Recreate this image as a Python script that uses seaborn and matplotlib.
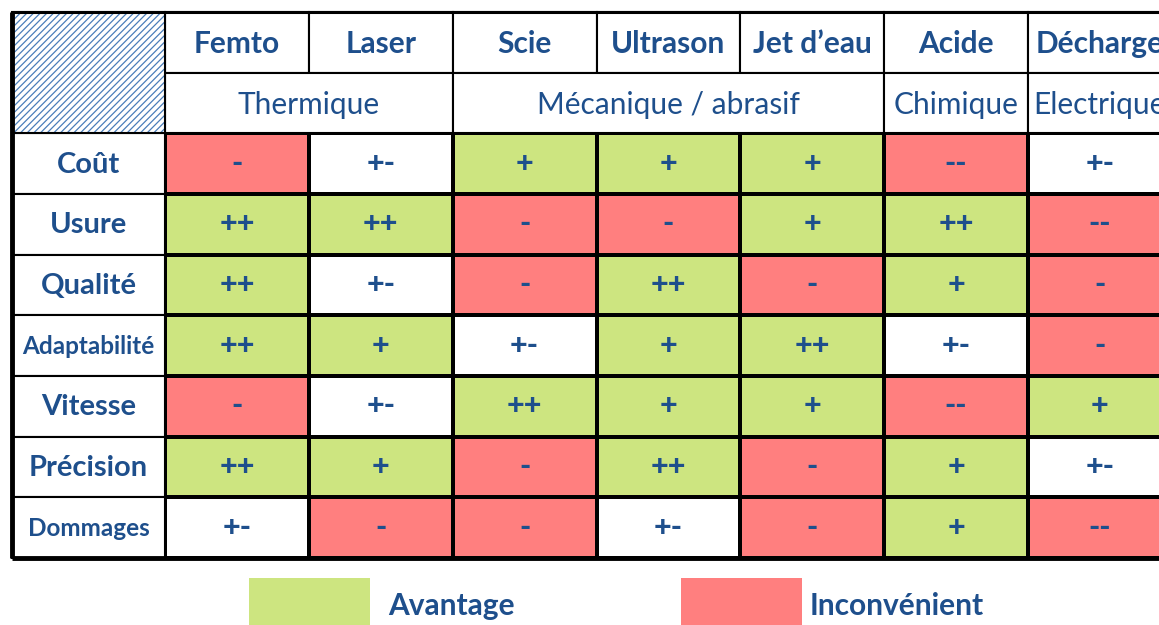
import numpy as np
import pandas as pd
import matplotlib
matplotlib.use("Agg")
import matplotlib.pyplot as plt
from matplotlib.colors import ListedColormap
from matplotlib.patches import Rectangle
import seaborn as sns

# ---------------- data ----------------
methods = ["Femto", "Laser", "Scie", "Ultrason", "Jet d’eau", "Acide", "Décharge"]
families = ["Thermique", "Mécanique / abrasif", "Chimique", "Electrique"]
family_span = [2, 3, 1, 1]
criteria = ["Coût", "Usure", "Qualité", "Adaptabilité", "Vitesse", "Précision", "Dommages"]

cout = ["-", "+-", "+", "+", "+", "--", "+-"]
usure = ["++", "++", "-", "-", "+", "++", "--"]
qualite = ["++", "+-", "-", "++", "-", "+", "-"]
adaptabilite = ["++", "+", "+-", "+", "++", "+-", "-"]
vitesse = ["-", "+-", "++", "+", "+", "--", "+"]
precision = ["++", "+", "-", "++", "-", "+", "+-"]
dommages = ["+-", "-", "-", "+-", "-", "+", "--"]

symbol_score = {"--": -2, "-": -1, "+-": 0, "+": 1, "++": 2}
legend_labels = ["Avantage", "Inconvénient"]

# ---------------- style ----------------
sns.set_style("white")
plt.rcParams["font.family"] = ["Lato", "DejaVu Sans"]
plt.rcParams["hatch.linewidth"] = 0.9

BLUE = "#1E4F8C"
GREEN = "#CDE580"
RED = "#FF7F7F"
WHITE = "#FFFFFF"
HATCH = "#4A7DBA"

labels = np.array([cout, usure, qualite, adaptabilite, vitesse, precision, dommages])
scores = pd.DataFrame(np.vectorize(symbol_score.get)(labels), index=criteria, columns=methods)

W, H = 1159, 625
fig = plt.figure(figsize=(W / 100, H / 100), dpi=100)

# table geometry in pixels
tbl_left, tbl_top, tbl_bottom = 12, 12, 558
col_w = 143.83
row_label_w = 153
x0 = -row_label_w / col_w
x1 = 6 + (W - 1028) / col_w

ax = fig.add_axes([tbl_left / W, (H - tbl_bottom) / H, (W - tbl_left) / W, (tbl_bottom - tbl_top) / H])

cmap = ListedColormap([RED, RED, WHITE, GREEN, GREEN])
sns.heatmap(scores, cmap=cmap, vmin=-2.5, vmax=2.5, annot=labels, fmt="",
            cbar=False, linewidths=1.5, linecolor="black",
            xticklabels=False, yticklabels=False, ax=ax,
            annot_kws=dict(fontsize=22, fontweight="black", color=BLUE))
ax.set_xlim(x0, x1)
ax.set_ylim(7, -2)
ax.set_xlabel("")
ax.set_ylabel("")
for s in ax.spines.values():
    s.set_visible(False)

lw = 1.5
dy = 0.035
# method header row
for i, m in enumerate(methods):
    ax.add_patch(Rectangle((i, -2), 1, 1, fc=WHITE, ec="black", lw=lw, clip_on=False))
    ax.text(i + 0.5, -1.5 + dy, m, ha="center", va="center", fontsize=21.5,
            fontweight="bold", color=BLUE, clip_on=True)

# family header row
start = 0
for fam, span in zip(families, family_span):
    ax.add_patch(Rectangle((start, -1), span, 1, fc=WHITE, ec="black", lw=lw, clip_on=False))
    ax.text(start + span / 2, -0.5 + dy, fam, ha="center", va="center", fontsize=21.5,
            color=BLUE, clip_on=True)
    start += span

# row labels
small = {"Adaptabilité": 17.5, "Dommages": 17.5}
for r, c in enumerate(criteria):
    ax.add_patch(Rectangle((x0, r), -x0, 1, fc=WHITE, ec="black", lw=lw, clip_on=False))
    ax.text(x0 / 2, r + 0.5 + dy / 2, c, ha="center", va="center", fontsize=small.get(c, 21),
            fontweight="bold", color=BLUE)

# hatched corner
ax.add_patch(Rectangle((x0, -2), -x0, 2, fc=WHITE, ec=HATCH, lw=0, hatch="/////", clip_on=False))
ax.add_patch(Rectangle((x0, -2), -x0, 2, fill=False, ec="black", lw=lw, clip_on=False))

# heavy outer borders
ax.plot([x0, x0], [-2, 7.0], color="black", lw=3.5, clip_on=False, solid_capstyle="butt")
ax.plot([x0, x1], [7.0, 7.0], color="black", lw=3.5, clip_on=False, solid_capstyle="butt")
ax.plot([x0, x1], [-2, -2], color="black", lw=2.2, clip_on=False, solid_capstyle="butt")

# legend
for (label, color, bx, tx) in zip(legend_labels, [GREEN, RED], [249, 681], [388, 810]):
    fig.add_artist(Rectangle((bx / W, 0), 121 / W, (H - 578) / H, transform=fig.transFigure,
                             fc=color, ec="none"))
    fig.text(tx / W, (H - 606) / H, label, ha="left", va="center", fontsize=21.5,
             fontweight="bold", color=BLUE)

fig.savefig("out.png", dpi=100, facecolor="white")
